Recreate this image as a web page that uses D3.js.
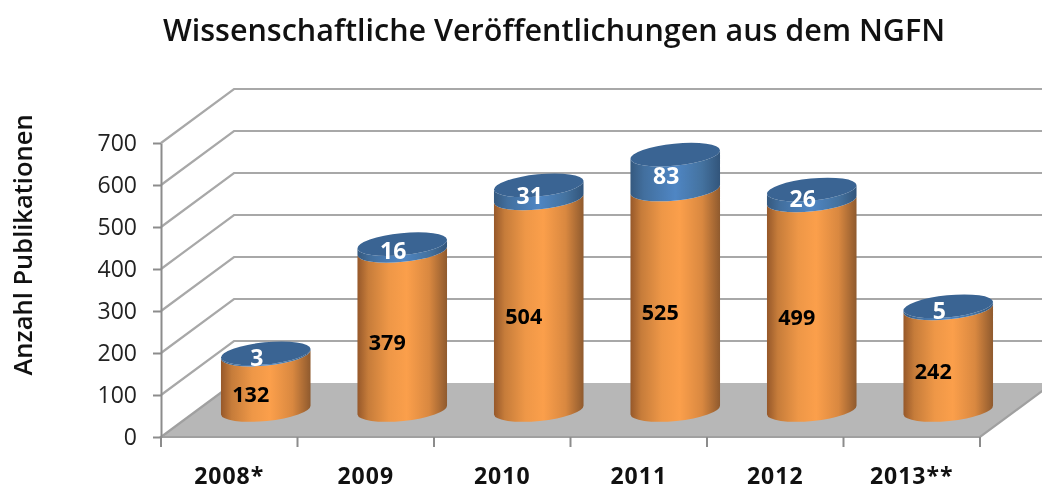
<!DOCTYPE html>
<html>
<head>
<meta charset="utf-8">
<script src="https://cdn.jsdelivr.net/npm/d3@7"></script>
<style>
html, body { margin: 0; padding: 0; background: #fff; }
svg { display: block; filter: blur(0.4px); }
text { font-family: "Open Sans", sans-serif; }
</style>
</head>
<body>
<svg id="chart" width="1042" height="491"></svg>
<script>
const categories = ['2008*', '2009', '2010', '2011', '2012', '2013**'];
const orangeValues = [132, 379, 504, 525, 499, 242];
const blueValues = [3, 16, 31, 83, 26, 5];
const yTicks = [0, 100, 200, 300, 400, 500, 600, 700];
const titleText = 'Wissenschaftliche Veröffentlichungen aus dem NGFN';
const yTitle = 'Anzahl Publikationen';

const svg = d3.select('#chart');

// front plane of the fake 3d box, back wall sits at +dx, -dy
const x = d3.scaleBand().domain(categories).range([161, 980]);
const y = d3.scaleLinear().domain([0, 700]).range([437, 143]);
const dx = 73, dy = 54;

// cylinder shape
const rx = 45, ry = 11, tilt = -5.7;
const tiltRad = tilt * Math.PI / 180;
const edgeX = rx * Math.cos(tiltRad), edgeY = rx * Math.sin(tiltRad);
const cylCx = d => x(d) + x.bandwidth() / 2 + dx / 2;
const cylY = v => y(v) - dy / 2;

const defs = svg.append('defs');
function sideGradient(id, stops) {
    const g = defs.append('linearGradient').attr('id', id)
        .attr('x1', 0).attr('x2', 1).attr('y1', 0).attr('y2', 0);
    stops.forEach(s => g.append('stop').attr('offset', s[0]).attr('stop-color', s[1]));
}
sideGradient('orangeSide', [[0, '#96582a'], [0.12, '#c67c3a'], [0.35, '#ee9747'], [0.55, '#fb9f4b'], [0.8, '#d98840'], [1, '#8f5a2e']]);
sideGradient('blueSide', [[0, '#35597f'], [0.15, '#426f9e'], [0.5, '#4f86c4'], [0.8, '#44729f'], [1, '#32557b']]);

function sidePath(cx, yBottom, yTop) {
    return 'M' + (cx - edgeX) + ',' + (yTop - edgeY)
        + 'L' + (cx - edgeX) + ',' + (yBottom - edgeY)
        + 'A' + rx + ',' + ry + ' ' + tilt + ' 0 0 ' + (cx + edgeX) + ',' + (yBottom + edgeY)
        + 'L' + (cx + edgeX) + ',' + (yTop + edgeY)
        + 'A' + rx + ',' + ry + ' ' + tilt + ' 0 1 ' + (cx - edgeX) + ',' + (yTop - edgeY) + 'Z';
}

// floor
const x0 = x.range()[0], x1 = x.range()[1];
svg.append('polygon')
    .attr('points', [[x0, y(0)], [x1, y(0)], [x1 + dx, y(0) - dy], [x0 + dx, y(0) - dy]].join(' '))
    .attr('fill', '#b7b7b7');

// grid lines on left wall and back wall
svg.selectAll('.grid')
    .data(yTicks.filter(d => d > 0))
    .enter()
    .append('polyline')
    .attr('class', 'grid')
    .attr('points', d => [[x0, y(d)], [x0 + dx, y(d) - dy], [1042, y(d) - dy]].join(' '))
    .attr('fill', 'none')
    .attr('stroke', '#a8a8a8')
    .attr('stroke-width', 2.2);

// floor edges
svg.append('polyline')
    .attr('points', [[x0 + dx, y(0) - dy], [x0, y(0)], [x1, y(0)], [x1 + dx, y(0) - dy]].join(' '))
    .attr('fill', 'none')
    .attr('stroke', '#a0a0a0')
    .attr('stroke-width', 2.2);

// axes
const yAxis = d3.axisLeft(y).tickValues(yTicks).tickSizeInner(8).tickSizeOuter(0).tickPadding(16);
const gy = svg.append('g').attr('transform', 'translate(' + x0 + ',0)').call(yAxis);
gy.selectAll('text').style('font-size', '23px').attr('fill', '#222').style('font-family', '"Open Sans", sans-serif');
gy.selectAll('line, path').attr('stroke', '#8c8c8c').attr('stroke-width', 2);

svg.selectAll('.xtick')
    .data(d3.range(categories.length + 1))
    .enter()
    .append('line')
    .attr('class', 'xtick')
    .attr('x1', d => x0 + d * x.step())
    .attr('x2', d => x0 + d * x.step())
    .attr('y1', y(0))
    .attr('y2', y(0) + 10)
    .attr('stroke', '#8c8c8c')
    .attr('stroke-width', 2);

svg.selectAll('.xlabel')
    .data(categories)
    .enter()
    .append('text')
    .attr('class', 'xlabel')
    .attr('x', d => x(d) + x.bandwidth() / 2)
    .attr('y', 484)
    .attr('text-anchor', 'middle')
    .attr('fill', '#111')
    .attr('font-size', 23)
    .attr('font-weight', 700)
    .attr('letter-spacing', 1)
    .text(d => d);

// cylinders
const cyl = svg.selectAll('.cyl')
    .data(categories)
    .enter()
    .append('g')
    .attr('class', 'cyl');

cyl.append('path')
    .attr('d', (d, i) => sidePath(cylCx(d), cylY(0), cylY(orangeValues[i])))
    .attr('fill', 'url(#orangeSide)');

cyl.append('path')
    .attr('d', (d, i) => sidePath(cylCx(d), cylY(orangeValues[i]), cylY(orangeValues[i] + blueValues[i])))
    .attr('fill', 'url(#blueSide)');

cyl.append('ellipse')
    .attr('rx', rx)
    .attr('ry', ry)
    .attr('transform', (d, i) => 'translate(' + cylCx(d) + ',' + cylY(orangeValues[i] + blueValues[i]) + ') rotate(' + tilt + ')')
    .attr('fill', '#3a6493');

// value labels
cyl.append('text')
    .attr('x', d => cylCx(d) - 15)
    .attr('y', (d, i) => cylY(orangeValues[i] / 2) + 20)
    .attr('text-anchor', 'middle')
    .attr('fill', '#000')
    .attr('font-size', 21.5)
    .attr('font-weight', 700)
    .text((d, i) => orangeValues[i]);

cyl.append('text')
    .attr('x', d => cylCx(d) - 9)
    .attr('y', (d, i) => cylY(orangeValues[i] + blueValues[i] / 2) + 12)
    .attr('text-anchor', 'middle')
    .attr('fill', '#fff')
    .attr('font-size', 23)
    .attr('font-weight', 700)
    .text((d, i) => blueValues[i]);

// titles
svg.append('text')
    .attr('x', 554)
    .attr('y', 41)
    .attr('text-anchor', 'middle')
    .attr('fill', '#111')
    .attr('font-size', 30.5)
    .attr('font-weight', 600)
    .text(titleText);

svg.append('text')
    .attr('transform', 'translate(32,245) rotate(-90)')
    .attr('text-anchor', 'middle')
    .attr('fill', '#111')
    .attr('font-size', 25.5)
    .attr('font-weight', 600)
    .text(yTitle);
</script>
</body>
</html>
